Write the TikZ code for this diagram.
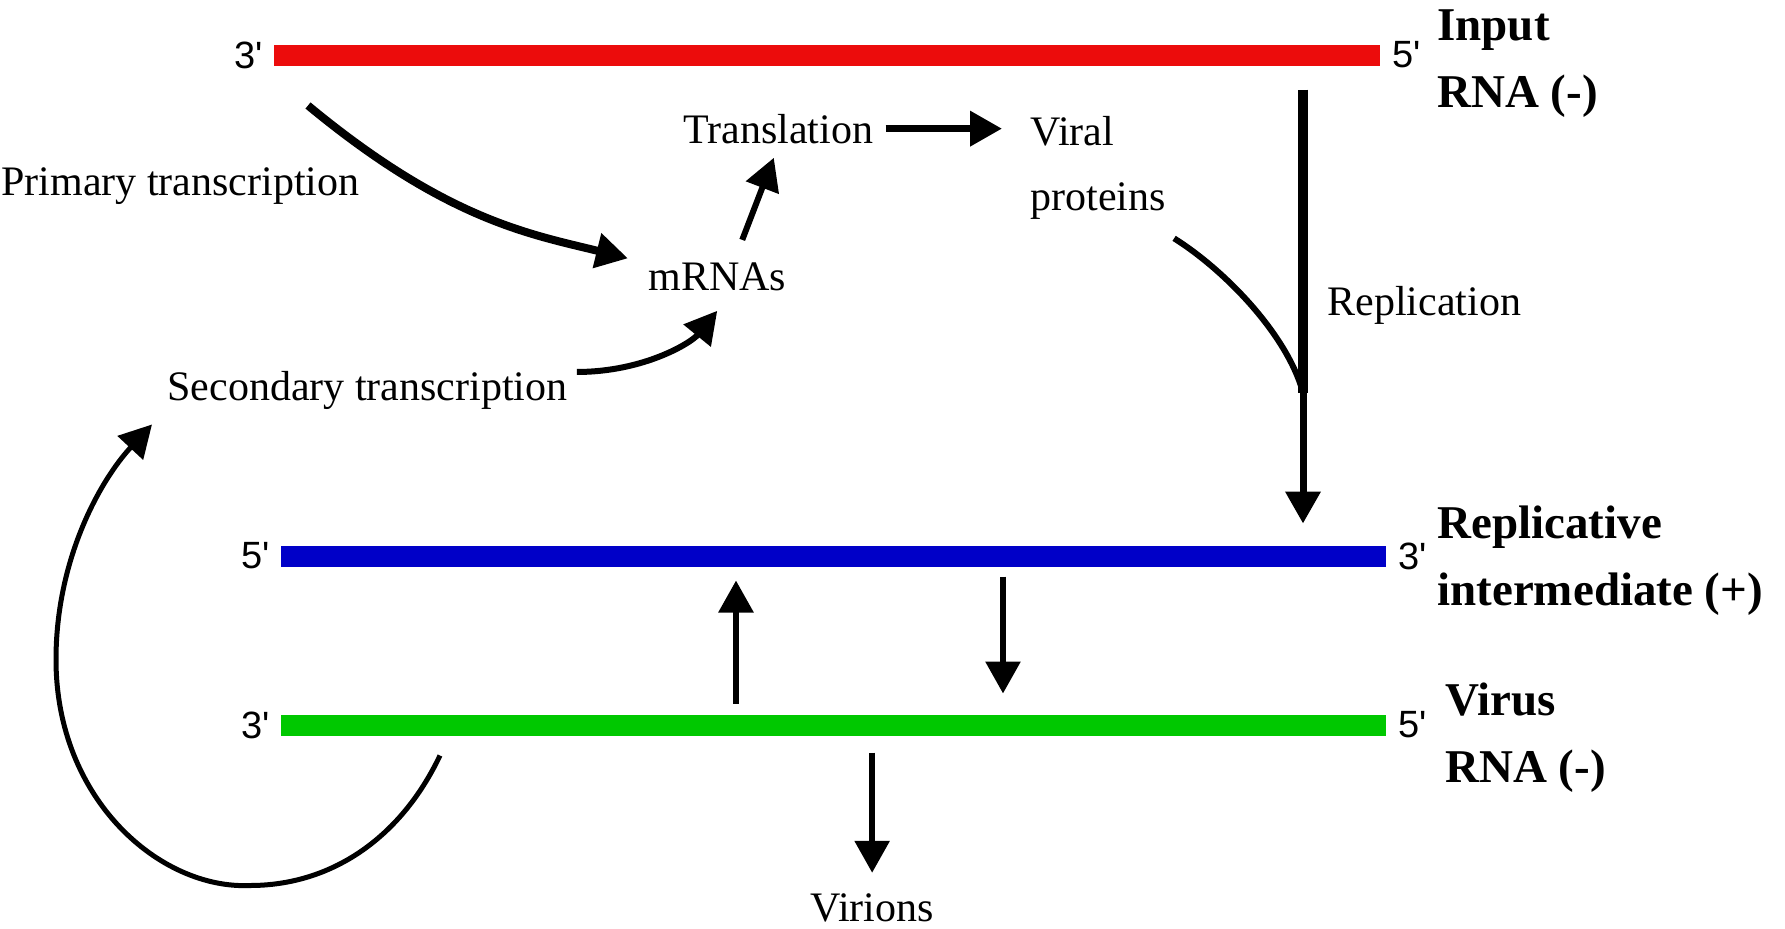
\documentclass[tikz,border=0pt]{standalone}
\usepackage{fontspec}
\setmainfont{Liberation Serif}
\newfontfamily\endfont{Liberation Sans}
\usepackage{tikz}
\usetikzlibrary{arrows.meta,positioning}
\definecolor{inputred}{RGB}{236,12,12}
\definecolor{repblue}{RGB}{0,0,200}
\definecolor{virgreen}{RGB}{0,200,0}

\begin{document}
\begin{tikzpicture}[
            x=0.5pt, y=-0.5pt,
            >={Triangle[length=16pt,width=17pt]},
            strand_bar/.style={
                rectangle, inner sep=0pt, outer sep=0pt,
                minimum height=10.5pt
            },
            end_text/.style={inner sep=0pt, font=\endfont\fontsize{19}{22}\selectfont},
            step_text/.style={inner sep=0pt, anchor=base west, align=left,
                font=\fontsize{21}{32.5}\selectfont},
            name_text/.style={inner sep=0pt, anchor=base west, align=left,
                font=\bfseries\fontsize{23.5}{33.5}\selectfont},
            flow_arrow/.style={->, line width=3pt}
        ]
        \useasboundingbox (0,0) rectangle (1785,928);

        % RNA strands
        \node[strand_bar, fill=inputred, minimum width=553pt] (inrna) at (827,55) {};
        \node[strand_bar, fill=repblue, minimum width=552.5pt] (repint) at (833.5,556) {};
        \node[strand_bar, fill=virgreen, minimum width=552.5pt] (virrna) at (833.5,725) {};

        % Strand ends
        \node[end_text, left=5.5pt of inrna.west] (in3) {3\textquotesingle};
        \node[end_text, right=6pt of inrna.east] (in5) {5\textquotesingle};
        \node[end_text, left=5.5pt of repint.west] (rep5) {5\textquotesingle};
        \node[end_text, right=6pt of repint.east] (rep3) {3\textquotesingle};
        \node[end_text, left=5.5pt of virrna.west] (vir3) {3\textquotesingle};
        \node[end_text, right=6pt of virrna.east] (vir5) {5\textquotesingle};

        % Strand names (base = last line)
        \node[name_text] (inname) at (1437,107) {Input\\RNA (-)};
        \node[name_text] (repname) at (1437,605) {Replicative\\intermediate (+)};
        \node[name_text] (virname) at (1445,782) {Virus\\RNA (-)};

        % Steps
        \node[step_text] (prim) at (1,195) {Primary transcription};
        \node[step_text] (trans) at (683,143) {Translation};
        \node[step_text] (viral) at (1030,210) {Viral\\proteins};
        \node[step_text] (mrna) at (648,290) {mRNAs};
        \node[step_text] (sec) at (167,400) {Secondary transcription};
        \node[step_text] (repl) at (1327,315) {Replication};
        \node[step_text] (virions) at (810,921) {Virions};

        % Replication
        \coordinate (repl_top) at ([xshift=238pt,yshift=-12pt]inrna.south);
        \coordinate (repl_join) at ([yshift=-151.5pt]repl_top);
        \draw[line width=5pt] (repl_top) -- (repl_join);
        \draw[flow_arrow, line width=3.5pt, shorten >=11pt] (repl_join) -- (repl_join |- repint.north);
        \draw[line width=3pt] ([xshift=4pt,yshift=-9.5pt]viral.south east)
            .. controls +(51,32) and +(-16,-58) .. (repl_join);

        % Transcription and translation
        \draw[flow_arrow, line width=4pt] ([xshift=17pt,yshift=-20pt]inrna.south west)
            .. controls +(139,115) and +(-97,-24) .. ([xshift=-10pt,yshift=9pt]mrna.west);
        \draw[flow_arrow] ([xshift=4.5pt,yshift=9pt]sec.east)
            .. controls +(67,0) and +(-26,32) .. ([yshift=-10pt]mrna.south);
        \draw[flow_arrow] ([xshift=12.5pt,yshift=11pt]mrna.north) -- ([xshift=-2.25pt,yshift=-7pt]trans.south);
        \draw[flow_arrow, line width=3.5pt, shorten <=6pt, shorten >=14pt] (trans.east) -- (trans.east -| viral.west);

        % Between strands
        \draw[flow_arrow] ([xshift=-48.75pt,yshift=5.5pt]virrna.north) -- ([xshift=-48.75pt,yshift=-7pt]repint.south);
        \draw[flow_arrow] ([xshift=84.75pt,yshift=-5pt]repint.south) -- ([xshift=84.75pt,yshift=10.5pt]virrna.north);
        \draw[flow_arrow, shorten <=8.5pt, shorten >=10pt] (virions.north |- virrna.south) -- (virions.north);

        % Loop back
        \draw[flow_arrow, line width=2.5pt] ([xshift=79.5pt,yshift=-10pt]virrna.south west)
            .. controls +(-40,84) and +(80,0) .. ++(-190,130)
            .. controls +(-90,4) and +(0,140) .. ++(-194,-226)
            .. controls +(0,-100) and +(-52,56) .. ([xshift=-7.5pt,yshift=-7.5pt]sec.south west);
\end{tikzpicture}
\end{document}
